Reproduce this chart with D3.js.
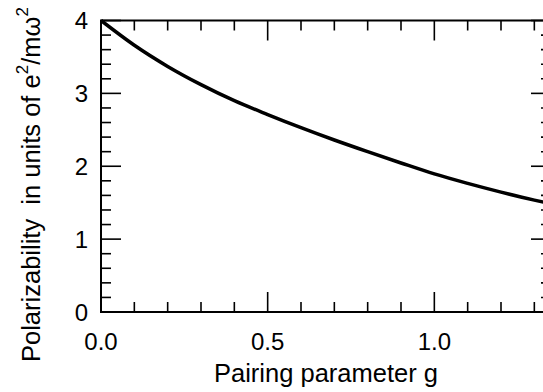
<!DOCTYPE html>
<html>
<head>
<meta charset="utf-8">
<script src="https://cdn.jsdelivr.net/npm/d3@7"></script>
<style>
  html, body { margin: 0; padding: 0; background: #fff; }
  svg { display: block; font-family: "Liberation Sans", Arial, sans-serif; }
</style>
</head>
<body>
<svg id="chart" width="543" height="392"></svg>
<script>
// Data
const gValues = [0, 0.1, 0.2, 0.3, 0.4, 0.5, 0.6, 0.7, 0.8, 0.9, 1.0, 1.1, 1.2, 1.3, 1.35];
const polarizability = [4.00, 3.66, 3.37, 3.12, 2.90, 2.71, 2.53, 2.36, 2.20, 2.045, 1.895, 1.765, 1.645, 1.535, 1.485];
const xMajorTicks = [0, 0.5, 1.0];
const xTickLabels = ["0.0", "0.5", "1.0"];
const yMajorTicks = [0, 1, 2, 3, 4];
const yTickLabels = ["0", "1", "2", "3", "4"];
const xMinorTicks = d3.range(0, 14).map(i => i / 10);
const yMinorTicks = d3.range(0, 21).map(i => i / 5);

(function () {
const svg = d3.select("#chart");
const pLeft = 101, pRight = 551, pTop = 20.5, pBottom = 312;

const x = d3.scaleLinear().domain([0, 1.35]).range([pLeft, pRight]);
const y = d3.scaleLinear().domain([0, 4]).range([pBottom, pTop]);

const majorLen = 20, minorLen = 10;

// ticks inward on all four sides
const tickG = svg.append("g").attr("stroke", "#000").attr("stroke-width", 1.6);
function xTicks(vals, len) {
  vals.forEach(v => {
    tickG.append("line").attr("x1", x(v)).attr("x2", x(v)).attr("y1", pBottom).attr("y2", pBottom - len);
    tickG.append("line").attr("x1", x(v)).attr("x2", x(v)).attr("y1", pTop).attr("y2", pTop + len);
  });
}
function yTicks(vals, len) {
  vals.forEach(v => {
    tickG.append("line").attr("y1", y(v)).attr("y2", y(v)).attr("x1", pLeft).attr("x2", pLeft + len);
    tickG.append("line").attr("y1", y(v)).attr("y2", y(v)).attr("x1", pRight).attr("x2", pRight - len);
  });
}
const isMajor = (v, arr) => arr.some(m => Math.abs(m - v) < 1e-9);
xTicks(xMinorTicks.filter(v => !isMajor(v, xMajorTicks)), minorLen);
xTicks(xMajorTicks, majorLen);
yTicks(yMinorTicks.filter(v => !isMajor(v, yMajorTicks)), minorLen);
yTicks(yMajorTicks, majorLen);

// frame
svg.append("rect")
  .attr("x", pLeft).attr("y", pTop)
  .attr("width", pRight - pLeft).attr("height", pBottom - pTop)
  .attr("fill", "none").attr("stroke", "#000").attr("stroke-width", 2);

// curve
svg.append("clipPath").attr("id", "clip").append("rect")
  .attr("x", pLeft).attr("y", pTop - 2).attr("width", pRight - pLeft).attr("height", pBottom - pTop + 2);
const line = d3.line()
  .x((d, i) => x(gValues[i]))
  .y(d => y(d))
  .curve(d3.curveMonotoneX);
svg.append("path")
  .datum(polarizability)
  .attr("clip-path", "url(#clip)")
  .attr("fill", "none")
  .attr("stroke", "#000")
  .attr("stroke-width", 3.5)
  .attr("d", line);

// tick labels
svg.append("g").selectAll("text").data(xMajorTicks).join("text")
  .attr("x", d => x(d)).attr("y", 350)
  .attr("text-anchor", "middle").attr("font-size", 24)
  .text((d, i) => xTickLabels[i]);
svg.append("g").selectAll("text").data(yMajorTicks).join("text")
  .attr("x", 88).attr("y", d => y(d)).attr("dy", "0.36em")
  .attr("text-anchor", "end").attr("font-size", 24)
  .text((d, i) => yTickLabels[i]);

// axis titles
svg.append("text")
  .attr("x", 326).attr("y", 382)
  .attr("text-anchor", "middle").attr("font-size", 25.5)
  .text("Pairing parameter g");

const yt = svg.append("text")
  .attr("transform", "translate(39.5,362) rotate(-90)")
  .attr("font-size", 25.5)
  .style("white-space", "pre");
yt.append("tspan").text("Polarizability  in units of e");
yt.append("tspan").attr("font-size", 17).attr("dy", -12).text("2");
yt.append("tspan").attr("dy", 12).text("/m");
yt.append("tspan").text("ω");
yt.append("tspan").attr("font-size", 17).attr("dy", -12).text("2");
})();
</script>
</body>
</html>
